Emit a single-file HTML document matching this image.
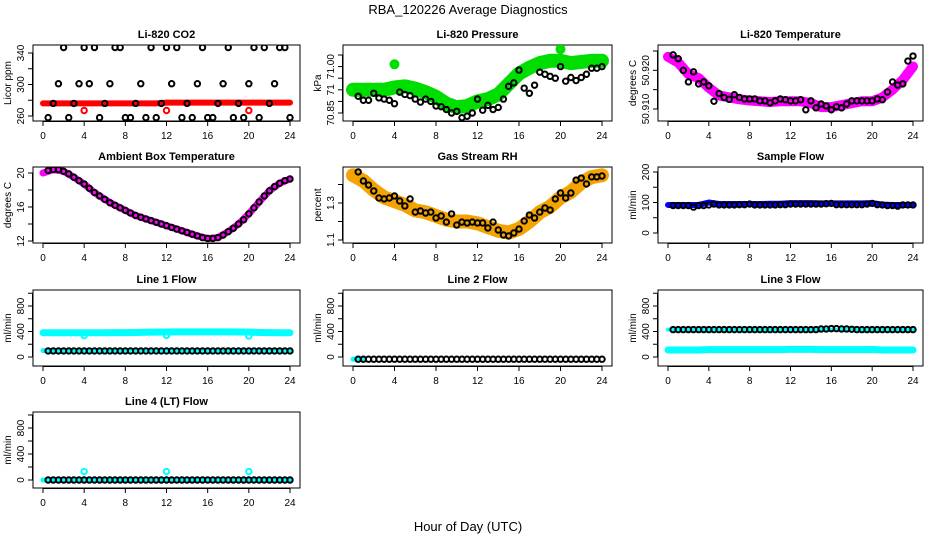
<!DOCTYPE html>
<html><head><meta charset="utf-8"><style>
html,body{margin:0;padding:0;background:#fff}
svg{display:block;font-family:"Liberation Sans",sans-serif}
</style></head><body>
<svg id="c" width="936" height="540" viewBox="0 0 936 540" xmlns="http://www.w3.org/2000/svg">
<text x="468" y="14" text-anchor="middle" font-size="13">RBA_120226  Average Diagnostics</text>
<text x="468" y="531" text-anchor="middle" font-size="13">Hour of Day (UTC)</text>
</svg>
<script>
const hours=[0.5,1,1.5,2,2.5,3,3.5,4,4.5,5,5.5,6,6.5,7,7.5,8,8.5,9,9.5,10,10.5,11,11.5,12,12.5,13,13.5,14,14.5,15,15.5,16,16.5,17,17.5,18,18.5,19,19.5,20,20.5,21,21.5,22,22.5,23,23.5,24];
const bandHours=[0,1,2,3,4,5,6,7,8,9,10,11,12,13,14,15,16,17,18,19,20,21,22,23,24];
const xTicks=[0,4,8,12,16,20,24];
const outlierHours=[4,12,20];

const co2Black=[258,276,301,347,258,276,301,347,301,347,258,276,301,347,347,258,258,276,301,258,347,258,276,347,301,347,258,276,258,301,347,258,258,276,301,347,258,276,258,301,347,258,347,276,301,347,347,258];
const co2Red=[276,276,276,276,276,276,276,276,276,276,276,276,277,277,277,277,277,277,277,277,277,277,277,277,277];
const co2Out=[267,267,267];

const presBlack=[70.922,70.905,70.905,70.935,70.915,70.91,70.905,70.89,70.94,70.93,70.925,70.91,70.897,70.91,70.9,70.88,70.877,70.865,70.85,70.857,70.83,70.836,70.85,70.91,70.862,70.883,70.865,70.874,70.91,70.965,70.98,71.035,70.957,70.935,70.97,71.026,71.017,71.008,71.0,71.05,70.987,71.003,70.99,71.003,71.017,71.043,71.043,71.05];
const presGreen=[70.95,70.95,70.95,70.95,70.96,70.965,70.955,70.94,70.92,70.89,70.875,70.88,70.9,70.91,70.93,70.975,71.02,71.045,71.065,71.075,71.075,71.065,71.07,71.075,71.075];
const presBlobHours=[4,20];
const presBlobs=[71.06,71.125];

const ltBlack=[50.924,50.923,50.920,50.917,50.9196,50.9165,50.917,50.916,50.912,50.914,50.913,50.9125,50.9137,50.913,50.9126,50.9126,50.9126,50.9121,50.9121,50.9116,50.9121,50.9126,50.9124,50.9121,50.9121,50.9124,50.9098,50.9121,50.9103,50.9113,50.9108,50.9098,50.9106,50.9103,50.9113,50.9121,50.9121,50.9121,50.9121,50.9121,50.9126,50.9124,50.9144,50.917,50.9162,50.9165,50.9224,50.9237];
const ltMag=[50.9235,50.922,50.919,50.918,50.9155,50.9135,50.913,50.9125,50.9122,50.912,50.9118,50.912,50.912,50.912,50.9115,50.9105,50.9105,50.911,50.9115,50.912,50.912,50.913,50.915,50.9175,50.921];

const ambBlack=[20.3,20.4,20.4,20.2,19.9,19.5,19.1,18.7,18.2,17.7,17.3,16.9,16.5,16.2,15.9,15.6,15.3,15.0,14.8,14.6,14.4,14.2,14.0,13.8,13.6,13.4,13.2,13.0,12.8,12.6,12.4,12.3,12.3,12.4,12.7,13.1,13.5,14.0,14.5,15.2,15.9,16.6,17.3,17.9,18.4,18.8,19.1,19.3];
const ambMag=[20.0,20.4,20.2,19.5,18.7,17.7,16.9,16.2,15.6,15.0,14.6,14.2,13.8,13.4,13.0,12.6,12.3,12.4,13.1,14.0,15.2,16.6,17.9,18.8,19.3];

const rhBlack=[1.468,1.419,1.397,1.365,1.327,1.322,1.327,1.338,1.311,1.284,1.322,1.251,1.257,1.246,1.251,1.219,1.230,1.197,1.241,1.181,1.197,1.192,1.197,1.192,1.192,1.165,1.197,1.154,1.127,1.122,1.138,1.159,1.203,1.235,1.219,1.251,1.273,1.262,1.322,1.354,1.327,1.354,1.424,1.435,1.403,1.441,1.441,1.446];
const rhBand=[1.45,1.42,1.37,1.33,1.31,1.29,1.26,1.25,1.23,1.21,1.2,1.2,1.19,1.17,1.15,1.14,1.16,1.2,1.25,1.28,1.33,1.36,1.41,1.44,1.45];

const sfBlack=[90,90,90,90,85,90,90,92,95,92,92,92,92,93,93,95,92,92,92,92,92,93,93,95,95,95,95,95,95,95,96,97,93,93,93,93,93,93,95,97,93,92,90,90,88,92,92,92];
const sfBlue=[92,92,92,92,100,95,95,95,95,95,96,96,98,98,98,97,97,97,97,97,98,93,92,92,92];

const l1Cyan=[380,380,380,380,380,380,380,382,382,385,388,390,392,395,395,395,395,395,395,393,390,385,382,380,380];
const l1Low=[100,100,100,100,100,100,100,100,100,100,100,100,100,100,100,100,100,100,100,100,100,100,100,100,100];
const l1Black=[95,95,95,95,95,95,95,95,95,95,95,95,95,95,95,95,95,95,95,95,95,95,95,95,95,95,95,95,95,95,95,95,95,95,95,95,95,95,95,95,95,95,95,95,95,95,95,95];
const l1Out=[335,340,330];

const l2Black=[-35,-35,-35,-35,-35,-35,-35,-35,-35,-35,-35,-35,-35,-35,-35,-35,-35,-35,-35,-35,-35,-35,-35,-35,-35,-35,-35,-35,-35,-35,-35,-35,-35,-35,-35,-35,-35,-35,-35,-35,-35,-35,-35,-35,-35,-35,-35,-35];

const l3Black=[430,430,430,430,430,430,430,430,430,430,430,430,430,430,430,430,430,430,430,430,430,430,430,430,430,430,430,430,430,440,440,445,445,440,440,435,430,430,430,430,430,430,430,430,430,430,430,430];
const l3Cyan=[110,110,110,110,115,115,115,115,115,115,115,115,120,120,120,115,115,115,115,115,118,110,110,110,110];

const l4Black=[0,0,0,0,0,0,0,0,0,0,0,0,0,0,0,0,0,0,0,0,0,0,0,0,0,0,0,0,0,0,0,0,0,0,0,0,0,0,0,0,0,0,0,0,0,0,0,0];
const l4Out=[130,130,130];

const NS="http://www.w3.org/2000/svg";
const svg=document.getElementById('c');
function mk(tag,attrs,parent){const e=document.createElementNS(NS,tag);for(const k in attrs)e.setAttribute(k,attrs[k]);(parent||svg).appendChild(e);return e;}
const cols=[[33,300],[343,612],[658,923]];
const rows=[[45,121],[167,243],[290,366],[412,488]];

function panel(name,title,ylab,ci,ri,v0,y0,v1,y1,yticks,ylabV,ylabT){
  const g=mk('g',{});
  
  
  const [L,R]=cols[ci],[T,B]=rows[ri];
  const xs=h=>L+10+h*(R-L-20)/24;
  const ys=v=>y0+(v-v0)*(y1-y0)/(v1-v0);
  const t=mk('text',{x:(L+R)/2,y:T-7,'text-anchor':'middle','font-size':11,'font-weight':'bold'},g);t.textContent=title;
  
  
  const box=mk('rect',{x:L,y:T,width:R-L,height:B-T,fill:'none',stroke:'#000','stroke-width':1},g);
  
  
  const xa=mk('g',{},g);
  
  
  mk('line',{x1:xs(0),x2:xs(24),y1:B+0.5,y2:B+0.5,stroke:'#000'},xa);
  xTicks.forEach(h=>{mk('line',{x1:xs(h),x2:xs(h),y1:B,y2:B+5,stroke:'#000'},xa);
    const tx=mk('text',{x:xs(h),y:B+18,'text-anchor':'middle','font-size':10},xa);tx.textContent=h;});
  const ya=mk('g',{},g);
  
  
  mk('line',{x1:L-0.5,x2:L-0.5,y1:ys(yticks[0]),y2:ys(yticks[yticks.length-1]),stroke:'#000'},ya);
  yticks.forEach(v=>mk('line',{x1:L-5,x2:L,y1:ys(v),y2:ys(v),stroke:'#000'},ya));
  ylabV.forEach((v,i)=>{const tx=mk('text',{x:0,y:0,'text-anchor':'middle','font-size':10,transform:`translate(${L-9},${ys(v)}) rotate(-90)`},ya);tx.textContent=ylabT[i];});
  const yl=mk('text',{x:0,y:0,'text-anchor':'middle','font-size':10,transform:`translate(${L-22},${(T+B)/2}) rotate(-90)`},g);yl.textContent=ylab;
  
  
  const clip='cl'+name;
  const cp=mk('clipPath',{id:clip},g);mk('rect',{x:L,y:T,width:R-L,height:B-T},cp);
  const pg=mk('g',{'clip-path':`url(#${clip})`},g);
  return {
    band(hs,vs,color,w,nm){const p=mk('polyline',{points:hs.map((h,i)=>xs(h)+','+ys(vs[i])).join(' '),fill:'none',stroke:color,'stroke-width':w,'stroke-linecap':'round','stroke-linejoin':'round'},pg);
      
      },
    pts(hs,vs,color,nm,r,fill){const gg=mk('g',{},pg);
      
      
      hs.forEach((h,i)=>mk('circle',{cx:xs(h),cy:ys(vs[i]),r:r||2.7,fill:fill||'none',stroke:color,'stroke-width':2},gg));}
  };
}

let p;
p=panel('co2','Li-820 CO2','Licor ppm',0,0,260,116,340,53,[260,280,300,320,340],[260,300,340],['260','300','340']);
p.band(bandHours,co2Red,'#ff0000',6,'co2-red-band');
p.pts(outlierHours,co2Out,'#ff0000','co2-red-outliers');
p.pts(hours,co2Black,'#000','co2-black-points');

p=panel('pressure','Li-820 Pressure','kPa',1,0,70.85,113,71.10,55,[70.85,70.90,70.95,71.00,71.05,71.10],[70.85,70.95,71.05],['70.85','71','71.00']);
p.band(bandHours,presGreen,'#00dd00',14,'pressure-green-band');
p.pts(presBlobHours,presBlobs,'#00dd00','pressure-green-blobs',4,'#00dd00');
p.pts(hours,presBlack,'#000','pressure-black-points');

p=panel('licor-temp','Li-820 Temperature','degrees C',2,0,50.925,51,50.910,109,[50.910,50.915,50.920,50.925],[50.910,50.920],['50.910','50.920']);
p.band(bandHours,ltMag,'#ff00ff',10,'licor-temp-magenta-band');
p.pts(hours,ltBlack,'#000','licor-temp-black-points');

p=panel('ambient','Ambient Box Temperature','degrees C',0,1,12,241,20,173,[12,14,16,18,20],[12,16,20],['12','16','20']);
p.band(bandHours,ambMag,'#ff00ff',7,'ambient-magenta-band');
p.pts(hours,ambBlack,'#000','ambient-black-points');

p=panel('rh','Gas Stream RH','percent',1,1,1.1,240,1.3,203,[1.1,1.2,1.3,1.4],[1.1,1.3],['1.1','1.3']);
p.band(bandHours,rhBand,'#f5a300',14,'rh-orange-band');
p.pts(hours,rhBlack,'#000','rh-black-points');

p=panel('sample-flow','Sample Flow','ml/min',2,1,0,233,200,172,[0,50,100,150,200],[0,100,200],['0','100','200']);
p.band(bandHours,sfBlue,'#0000ff',6,'sample-flow-blue-band');
p.pts(hours,sfBlack,'#000','sample-flow-black-points');

const fT=[0,200,400,600,800,1000],fV=[0,400,800],fL=['0','400','800'];
p=panel('line1','Line 1 Flow','ml/min',0,2,0,357,800,306,fT,fV,fL);
p.band(bandHours,l1Cyan,'#00ffff',7,'line1-cyan-band');
p.band(bandHours,l1Low,'#00ffff',5,'line1-cyan-low-band');
p.pts(outlierHours,l1Out,'#00ffff','line1-cyan-outliers');
p.pts(hours,l1Black,'#000','line1-black-points');

p=panel('line2','Line 2 Flow','ml/min',1,2,0,357,800,306,fT,fV,fL);
p.band(bandHours.slice(0,2),[-35,-35],'#00ffff',5,'line2-cyan-band');
p.pts(hours,l2Black,'#000','line2-black-points');

p=panel('line3','Line 3 Flow','ml/min',2,2,0,357,800,306,fT,fV,fL);
p.band(bandHours,l3Cyan,'#00ffff',7,'line3-cyan-band');
p.band([0,24],[430,430],'#00ffff',4,'line3-cyan-high-band');
p.pts(hours,l3Black,'#000','line3-black-points');

p=panel('line4','Line 4 (LT) Flow','ml/min',0,3,0,480,400,454,fT,fV,fL);
p.band([0,24],[0,0],'#00ffff',5,'line4-cyan-band');
p.pts(outlierHours,l4Out,'#00ffff','line4-cyan-outliers');
p.pts(hours,l4Black,'#000','line4-black-points');
</script>
</body></html>
